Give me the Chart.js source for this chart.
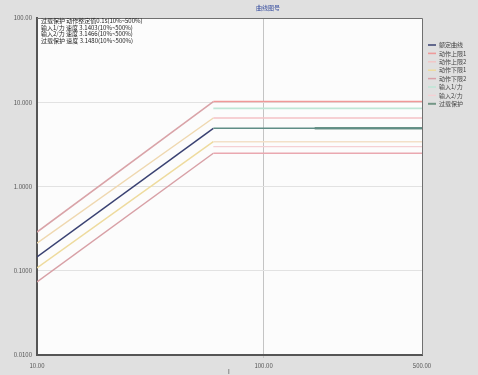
<!DOCTYPE html>
<html><head><meta charset="utf-8">
<script src="https://cdn.jsdelivr.net/npm/chart.js@4/dist/chart.umd.min.js"></script>
<style>html,body{margin:0;padding:0;background:#e0e0e0;}#wrap{width:478px;height:375px;position:relative;}</style>
</head><body><div id="wrap"><canvas id="c" width="478" height="375"></canvas></div>
<script>
const chartTitle = "曲线图号";
const xAxisTitle = "I";
const xTickValues = [10, 100, 500];
const xTickLabels = ["10.00", "100.00", "500.00"];
const yTickValues = [0.01, 0.1, 1, 10, 100];
const yTickLabels = ["0.0100", "0.1000", "1.0000", "10.000", "100.00"];

const xBreak = [10, 60, 500];
const xFlat = [60, 500];
const xOverload = [168, 500];

const ratedCurve = [0.146, 4.91, 4.91];
const upperLimit1 = [0.288, 10.2, 10.2];
const upperLimit2 = [0.213, 6.5, 6.5];
const lowerLimit1 = [0.108, 3.4, 3.4];
const lowerLimit2 = [0.0735, 2.48, 2.48];
const input1 = [8.47, 8.47];
const input2 = [2.97, 2.97];
const overload = [4.91, 4.91];

const seriesLabels = ["额定曲线", "动作上限1", "动作上限2", "动作下限1", "动作下限2", "输入1/力", "输入2/力", "过载保护"];
const notes = [
  "过载保护 动作整定值0.1s(10%~500%)",
  "输入1/力 速度 3.1403(10%~500%)",
  "输入2/力 速度 3.1466(10%~500%)",
  "过载保护 速度 3.1480(10%~500%)"
];

function pts(xs, ys){ return xs.map((x,i)=>({x:x, y:ys[i]})); }
function twoTone(rise, flat){ return {borderColor: ctx => ctx.p0.parsed.x >= xBreak[1] ? flat : rise}; }

const datasets = [
  {label: seriesLabels[1], data: pts(xBreak, upperLimit1), borderColor: "#ee9a9a", borderWidth: 1.6, segment: twoTone("#d9a3a8", "#f09898")},
  {label: seriesLabels[2], data: pts(xBreak, upperLimit2), borderColor: "#f2c6c6", borderWidth: 1.5, segment: twoTone("#efd8b0", "#f4c2c6")},
  {label: seriesLabels[3], data: pts(xBreak, lowerLimit1), borderColor: "#eedb9e", borderWidth: 1.5, segment: twoTone("#eedb9e", "#f3e0c8")},
  {label: seriesLabels[4], data: pts(xBreak, lowerLimit2), borderColor: "#d9a0a8", borderWidth: 1.5, segment: twoTone("#d8a0a6", "#eaa8b0")},
  {label: seriesLabels[5], data: pts(xFlat, input1), borderColor: "#bfe6d6", borderWidth: 1.6},
  {label: seriesLabels[6], data: pts(xFlat, input2), borderColor: "#f5d0d4", borderWidth: 1.4},
  {label: seriesLabels[0], data: pts(xBreak, ratedCurve), borderColor: "#3a4272", borderWidth: 1.5, segment: twoTone("#3a4272", "#5f8d86")},
  {label: seriesLabels[7], data: pts(xOverload, overload), borderColor: "#739686", borderWidth: 2.5}
];
const legendOrder = [6, 0, 1, 2, 3, 4, 5, 7];

const fontFam = "'Noto Sans CJK SC', 'DejaVu Sans', sans-serif";

const deco = {
  id: "deco",
  beforeDraw(chart){
    const c = chart.ctx, a = chart.chartArea;
    c.save();
    c.fillStyle = "#e0e0e0"; c.fillRect(0,0,chart.width,chart.height);
    c.fillStyle = "#fcfcfc"; c.fillRect(a.left,a.top,a.right-a.left,a.bottom-a.top);
    c.restore();
  },
  afterDraw(chart){
    const c = chart.ctx, a = chart.chartArea;
    c.save();
    c.strokeStyle = "#707070"; c.lineWidth = 1;
    c.beginPath();
    c.moveTo(a.left, a.top+0.5); c.lineTo(a.right+0.5, a.top+0.5); c.lineTo(a.right+0.5, a.bottom);
    c.stroke();
    c.font = "6px " + fontFam; c.fillStyle = "#3a50a0"; c.textAlign = "center"; c.textBaseline = "middle";
    c.fillText(chartTitle, 268, 8);
    c.fillStyle = "#444"; c.fillText(xAxisTitle, 229, 372);
    c.textAlign = "left"; c.fillStyle = "#222";
    notes.forEach((t,i)=>{ c.fillText(t, 41, 21 + i*6.6); });
    legendOrder.forEach((di,i)=>{
      const ds = chart.data.datasets[di];
      const y = 45 + i*8.4;
      c.strokeStyle = ds.borderColor; c.lineWidth = Math.min(ds.borderWidth, 2);
      c.beginPath(); c.moveTo(428, y); c.lineTo(436, y); c.stroke();
      c.fillStyle = "#444"; c.fillText(ds.label, 439, y);
    });
    c.restore();
  }
};

new Chart(document.getElementById("c"), {
  type: "line",
  data: {datasets: datasets.map(d=>Object.assign({pointRadius:0, tension:0, fill:false}, d))},
  options: {
    responsive: false, animation: false,
    layout: {padding: {top: 18, right: 56, left: 0, bottom: 0}},
    plugins: {legend: {display: false}, title: {display: false}, tooltip: {enabled: false}},
    scales: {
      x: {
        type: "logarithmic", min: 10, max: 500,
        afterBuildTicks: s => { s.ticks = xTickValues.map(v=>({value:v})); },
        afterFit: s => { s.height = 20; },
        ticks: {callback: (v,i)=>xTickLabels[i], font: {size: 6, family: fontFam}, color: "#555", maxRotation: 0, autoSkip: false, padding: 4},
        grid: {color: ctx => (ctx.tick && ctx.tick.value === 100) ? "#c4c4c4" : "rgba(0,0,0,0)", tickLength: 3, drawTicks: true},
        border: {color: "#555", width: 2}
      },
      y: {
        type: "logarithmic", min: 0.01, max: 100,
        afterBuildTicks: s => { s.ticks = yTickValues.map(v=>({value:v})); },
        afterFit: s => { s.width = 37; },
        ticks: {callback: (v,i)=>yTickLabels[i], font: {size: 6, family: fontFam}, color: "#555", autoSkip: false, padding: 2},
        grid: {color: ctx => (ctx.tick && (ctx.tick.value === 0.01 || ctx.tick.value === 100)) ? "rgba(0,0,0,0)" : "#e2e2e2", tickLength: 3},
        border: {color: "#555", width: 2}
      }
    }
  },
  plugins: [deco]
});
</script>
</body></html>
